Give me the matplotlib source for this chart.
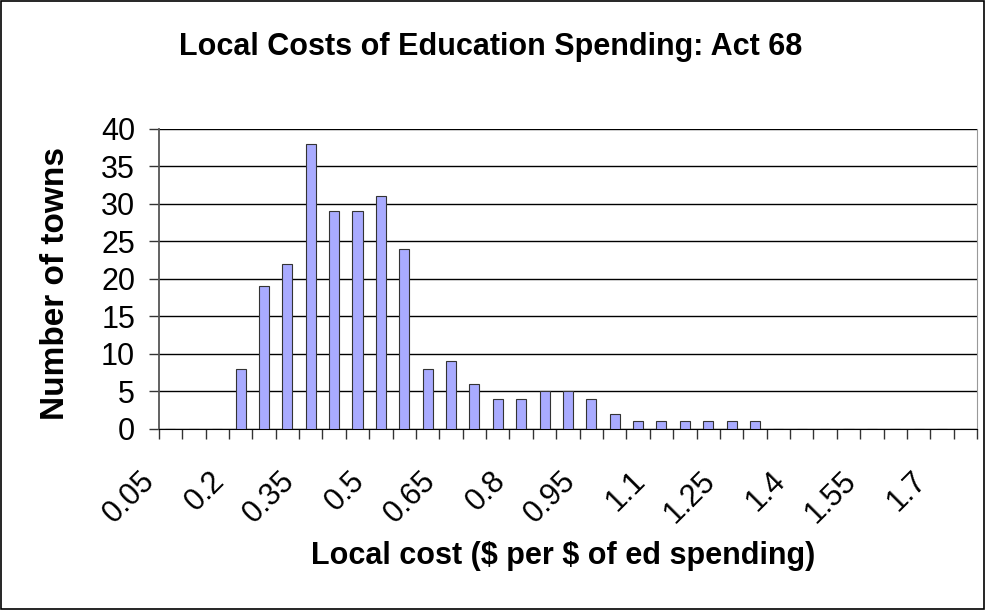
import numpy as np
import matplotlib
matplotlib.use("Agg")
import matplotlib.pyplot as plt
import matplotlib.transforms as mtransforms

# --------------------------------------------------
# Data
# --------------------------------------------------
categories = ["0.05", "0.1", "0.15", "0.2", "0.25", "0.3", "0.35", "0.4", "0.45",
              "0.5", "0.55", "0.6", "0.65", "0.7", "0.75", "0.8", "0.85", "0.9",
              "0.95", "1", "1.05", "1.1", "1.15", "1.2", "1.25", "1.3", "1.35",
              "1.4", "1.45", "1.5", "1.55", "1.6", "1.65", "1.7", "1.75"]
towns = [0, 0, 0, 8, 19, 22, 38, 29, 29,
         31, 24, 8, 9, 6, 4, 4, 5, 5,
         4, 2, 1, 1, 1, 1, 1, 1, 0,
         0, 0, 0, 0, 0, 0, 0, 0]
yticks = [0, 5, 10, 15, 20, 25, 30, 35, 40]

plt.rcParams["font.family"] = ["Liberation Sans", "DejaVu Sans"]

fig = plt.figure(figsize=(9.86, 6.10), dpi=100)
ax = fig.add_axes([0.161, 0.297, 0.830, 0.492])

x = np.arange(len(categories))
ax.bar(x, towns, width=0.43, color="#a9abff", edgecolor="#333333",
       linewidth=0.8, zorder=3)

ax.set_xlim(-0.5, len(categories) - 0.5)
ax.set_ylim(0, 40)
ax.set_yticks(yticks)
ax.set_yticklabels([str(v) for v in yticks], fontsize=22)
ax.yaxis.grid(True, color="black", linewidth=1.0, zorder=0)

# tick marks on category boundaries
ax.set_xticks(np.arange(len(categories) + 1) - 0.5)
ax.set_xticklabels([])
ax.tick_params(axis="x", direction="out", length=7, width=1, color="#333333")
ax.tick_params(axis="y", direction="out", length=7, width=1,
               color="#333333", pad=10)

# rotated category labels, every third one (Excel style placement)
shift = mtransforms.ScaledTranslation(-31 / 100, -37 / 100, fig.dpi_scale_trans)
for xi, lab in zip(x[::3], categories[::3]):
    ax.text(xi, 0, lab, transform=ax.get_xaxis_transform() + shift,
            rotation=45, ha="right", va="top", rotation_mode="anchor",
            fontsize=22)

ax.spines["top"].set_visible(False)
ax.spines["right"].set_color("#999999")
ax.spines["left"].set_color("#555555")
ax.spines["left"].set_linewidth(1.3)
ax.spines["bottom"].set_color("black")

fig.text(0.571, 1 - 556 / 610, "Local cost (\\$ per \\$ of ed spending)",
         ha="center", va="center", fontsize=22, fontweight="bold")
fig.text(0.056, 1 - 283 / 610, "Number of towns", rotation=90,
         ha="center", va="center", fontsize=24, fontweight="bold")
fig.text(0.498, 1 - 47 / 610, "Local Costs of Education Spending: Act 68",
         ha="center", va="center", fontsize=22, fontweight="bold")

# outer chart border
fig.patches.append(plt.Rectangle((0.001, 0.002), 0.997, 0.996,
                                 transform=fig.transFigure, fill=False,
                                 edgecolor="black", linewidth=1.2))

fig.savefig("out.png", dpi=100)
